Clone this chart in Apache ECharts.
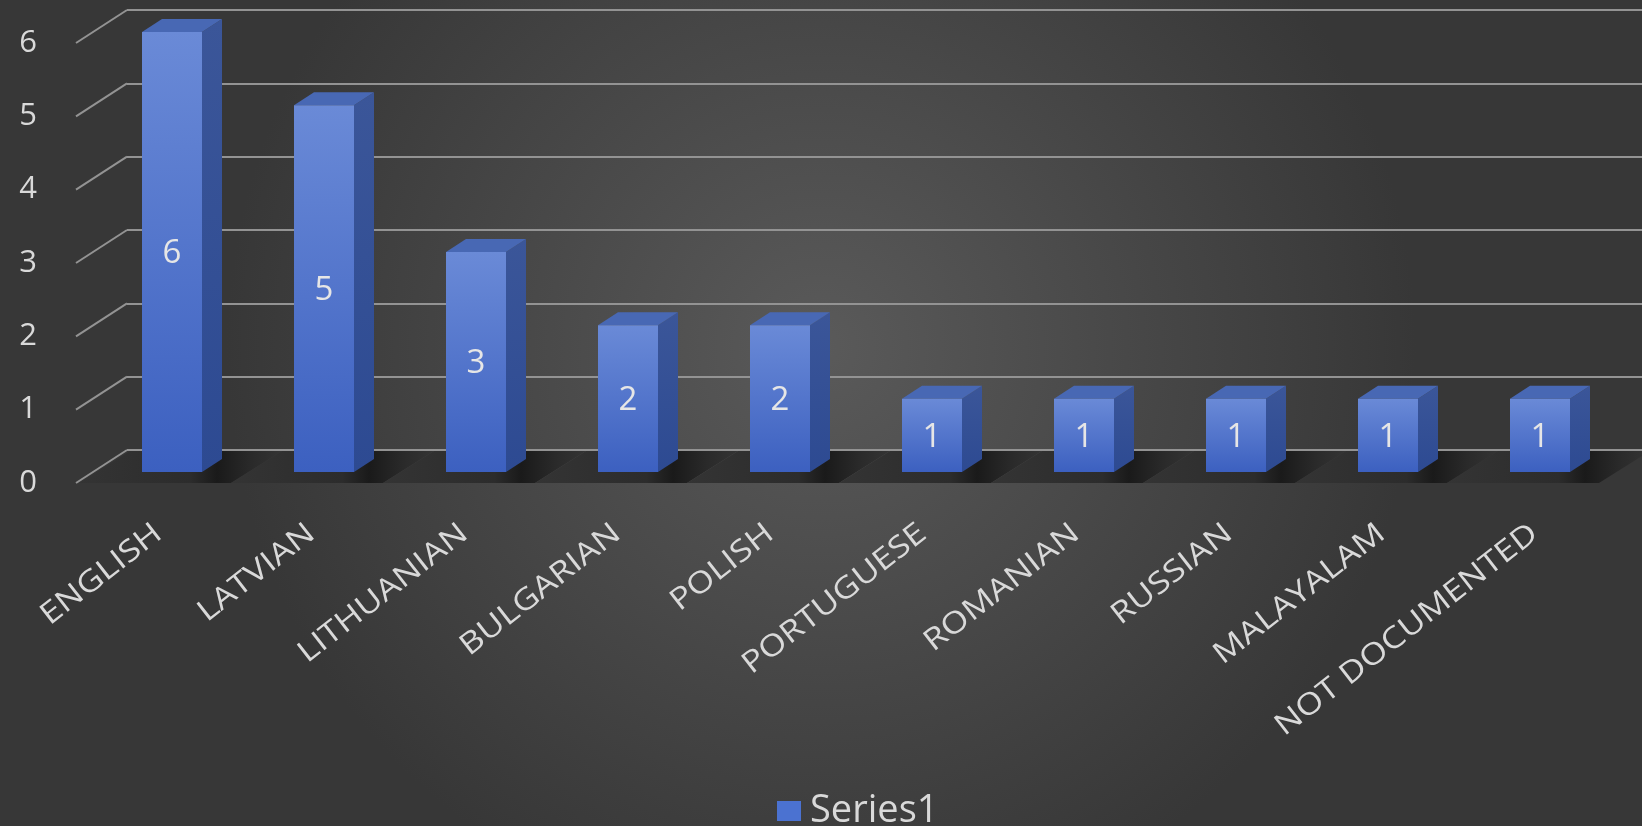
<!DOCTYPE html>
<html>
<head>
<meta charset="utf-8">
<style>
html,body{margin:0;padding:0;background:#3c3c3c;}
#chart{width:1642px;height:826px;}
</style>
<script src="https://cdn.jsdelivr.net/npm/echarts@6/dist/echarts.min.js"></script>
</head>
<body>
<div id="chart"></div>
<script>
const categories = ['ENGLISH','LATVIAN','LITHUANIAN','BULGARIAN','POLISH','PORTUGUESE','ROMANIAN','RUSSIAN','MALAYALAM','NOT DOCUMENTED'];
const values = [6,5,3,2,2,1,1,1,1,1];
const yTicks = [0,1,2,3,4,5,6];
const seriesName = 'Series1';

const chart = echarts.init(document.getElementById('chart'));
const FONT = '"Open Sans", "Noto Sans", sans-serif';
const txt = '#d9d9d9';

const frontGrad = new echarts.graphic.LinearGradient(0,0,0,1,[{offset:0,color:'#6a8ad7'},{offset:1,color:'#3c60c0'}]);
const sideGrad = new echarts.graphic.LinearGradient(0,0,0,1,[{offset:0,color:'#3b5699'},{offset:1,color:'#2d4a92'}]);

const option = {
  backgroundColor: {type:'radial', x:0.5, y:0.42, r:0.72, colorStops:[{offset:0,color:'#5a5a5a'},{offset:1,color:'#373737'}]},
  animation:false,
  legend:{
    data:[{name:seriesName, icon:'rect'}],
    left:772, top:787, itemWidth:24, itemHeight:20, itemGap:10,
    textStyle:{color:txt, fontSize:38, fontFamily:FONT, padding:[0,0,0,4]}
  },
  grid:[
    {left:127, top:10, right:0, height:440},
    {left:96, top:32, width:1520, height:440},
    {left:79, top:43, width:1529, height:440}
  ],
  xAxis:[
    {gridIndex:0, type:'category', data:categories, show:false},
    {gridIndex:1, type:'category', data:categories, show:false},
    {gridIndex:2, type:'category', data:categories, axisLine:{show:false}, axisTick:{show:false}, axisLabel:{show:false}}
  ],
  yAxis:[
    {gridIndex:0, type:'value', min:0, max:6, interval:1, axisLabel:{show:false}, axisLine:{show:false}, axisTick:{show:false},
     splitLine:{show:true, lineStyle:{color:'#939393', width:2}}},
    {gridIndex:1, type:'value', min:0, max:6, interval:1, show:false, splitLine:{show:false}},
    {gridIndex:2, type:'value', min:0, max:6, interval:1, axisLine:{show:false}, axisTick:{show:false}, splitLine:{show:false},
     axisLabel:{margin:42, color:txt, fontSize:31, fontFamily:FONT}}
  ],
  series:[
    {
      name:'ticks', type:'custom', xAxisIndex:2, yAxisIndex:2, silent:true, z:1,
      data: yTicks.map(v=>[0,v]),
      renderItem:function(params, api){
        const cs = params.coordSys;
        const y = api.coord([0, api.value(1)])[1];
        return {type:'line', shape:{x1:cs.x-3, y1:y, x2:cs.x+48, y2:y-33}, style:{stroke:'#939393', lineWidth:2}};
      }
    },
    {
      name:'xlabels', type:'custom', xAxisIndex:2, yAxisIndex:2, silent:true, z:2,
      data: categories.map((c,i)=>[i,0]),
      renderItem:function(params, api){
        const p = api.coord([api.value(0), 0]);
        return {type:'text', x:p[0]+3, y:p[1]+47, rotation:38*Math.PI/180, scaleX:1.17,
          style:{text:categories[params.dataIndex], align:'right', verticalAlign:'middle', fill:txt, fontSize:30, fontFamily:FONT}};
      }
    },
    {
      name:'floor', type:'custom', xAxisIndex:1, yAxisIndex:1, silent:true, z:1,
      data: categories.map((c,i)=>[i,0]),
      renderItem:function(params, api){
        const c = api.coord([api.value(0), 0]);
        const cx = c[0], y = c[1];
        const pts = [[cx-76+34, y-21],[cx+76+34, y-21],[cx+76-17, y+11],[cx-76-17, y+11]];
        return {type:'polygon', shape:{points:pts}, style:{fill:new echarts.graphic.LinearGradient(0,0,1,0,[
          {offset:0,color:'#343434'},{offset:0.55,color:'#2c2c2c'},{offset:0.68,color:'#1a1a1a'},{offset:0.85,color:'#2a2a2a'},{offset:1,color:'#343434'}])}};
      }
    },
    {
      name:seriesName, type:'custom', xAxisIndex:1, yAxisIndex:1, z:3,
      itemStyle:{color:'#4b72d1'},
      data: values.map((v,i)=>[i,v]),
      renderItem:function(params, api){
        const v = api.value(1);
        const top = api.coord([api.value(0), v]);
        const base = api.coord([api.value(0), 0]);
        const w = 60, dx = 20, dy = 13;
        const x0 = top[0]-w/2, x1 = top[0]+w/2;
        return {type:'group', children:[
          {type:'polygon', shape:{points:[[x1,top[1]],[x1+dx,top[1]-dy],[x1+dx,base[1]-dy],[x1,base[1]]]}, style:{fill:sideGrad}},
          {type:'polygon', shape:{points:[[x0,top[1]],[x0+dx,top[1]-dy],[x1+dx,top[1]-dy],[x1,top[1]]]}, style:{fill:'#4868b4'}},
          {type:'rect', shape:{x:x0, y:top[1], width:w, height:base[1]-top[1]}, style:{fill:frontGrad}},
          {type:'text', style:{text:String(v), x:top[0], y:(top[1]+base[1])/2 + 2, align:'center', verticalAlign:'middle',
            fill:'#e6e6e6', fontSize:33, fontFamily:FONT}}
        ]};
      }
    }
  ]
};
chart.setOption(option);
</script>
</body>
</html>
